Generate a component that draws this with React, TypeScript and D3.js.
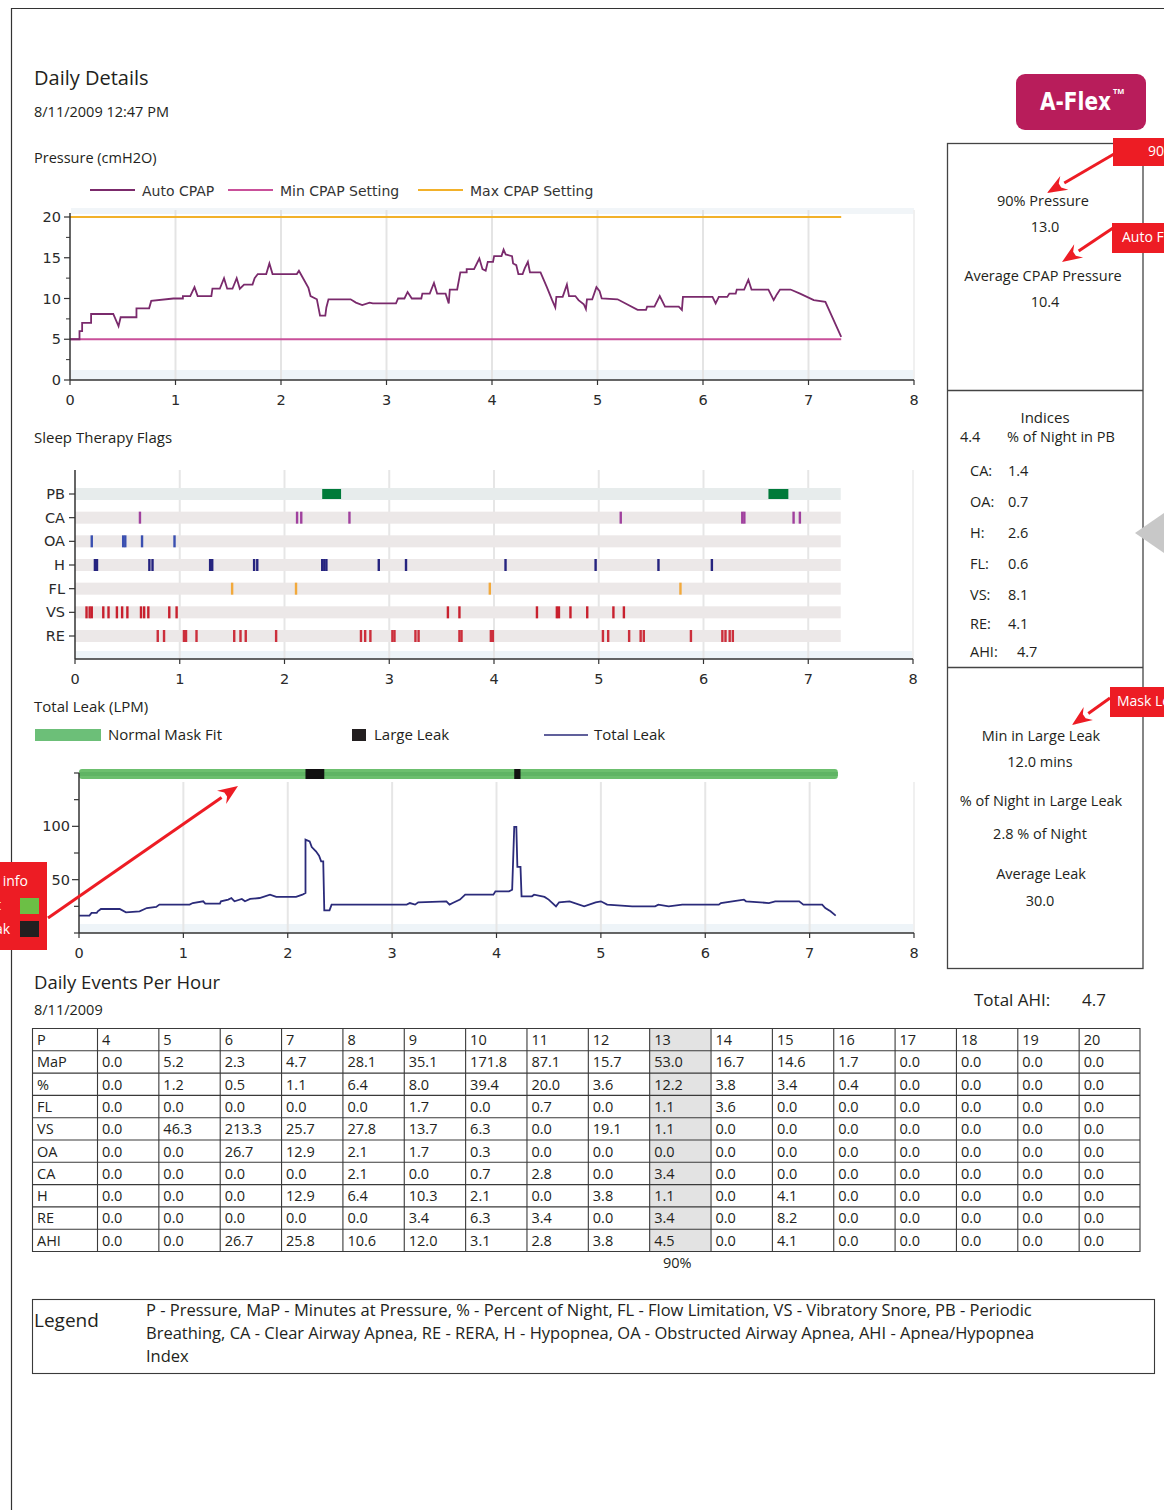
import React from "react";
import * as d3 from "d3";

const W = 1164;
const H = 1510;
const FONT = "'Open Sans', Lato, sans-serif";
const CFONT = "'DejaVu Sans', Verdana, sans-serif";
const TXT = "#231f20";

// ---------- Pressure chart data ----------
const hourTicks = [0, 1, 2, 3, 4, 5, 6, 7, 8];
const pressureTicks = [0, 5, 10, 15, 20];
const pressureMinorTicks = [2.5, 7.5, 12.5, 17.5];
const minCpapSetting = 5;
const maxCpapSetting = 20;
const sessionEnd = 7.31;
const pressureLegend = ["Auto CPAP", "Min CPAP Setting", "Max CPAP Setting"];
const autoCpap: [number, number][] = [
  [0.0, 5.0], [0.09, 5.0], [0.09, 6.0], [0.115, 6.0], [0.115, 7.0], [0.2, 7.0], [0.2, 8.1],
  [0.41, 8.1], [0.46, 6.6], [0.48, 7.7], [0.63, 7.7], [0.63, 8.8], [0.75, 8.8], [0.77, 9.7],
  [0.98, 10.0], [1.07, 10.0], [1.07, 10.3], [1.14, 10.3], [1.18, 11.4], [1.21, 10.3],
  [1.34, 10.3], [1.35, 11.2], [1.42, 11.2], [1.46, 12.5], [1.49, 11.2], [1.54, 11.2],
  [1.58, 12.5], [1.61, 11.2], [1.65, 11.7], [1.73, 11.7], [1.75, 12.5], [1.78, 13.0],
  [1.86, 13.0], [1.89, 14.3], [1.92, 13.0], [2.15, 13.0], [2.17, 13.4], [2.2, 12.7],
  [2.26, 11.3], [2.28, 10.3], [2.34, 9.9], [2.37, 7.9], [2.42, 7.9], [2.43, 8.9],
  [2.45, 9.9], [2.66, 9.9], [2.71, 9.5], [2.77, 9.2], [2.84, 9.5], [2.87, 9.4],
  [3.09, 9.4], [3.11, 10.0], [3.17, 10.0], [3.2, 10.8], [3.24, 10.0], [3.33, 10.0],
  [3.34, 10.6], [3.41, 10.6], [3.45, 11.9], [3.48, 10.6], [3.56, 10.6], [3.59, 9.4],
  [3.6, 11.1], [3.67, 11.1], [3.7, 13.2], [3.76, 13.2], [3.76, 13.6], [3.83, 13.6],
  [3.88, 14.9], [3.91, 13.6], [3.94, 13.4], [3.96, 14.5], [4.01, 14.5], [4.02, 15.2],
  [4.09, 15.2], [4.11, 16.0], [4.13, 15.4], [4.19, 15.2], [4.2, 14.3], [4.23, 14.1],
  [4.25, 13.0], [4.29, 13.0], [4.31, 13.7], [4.34, 14.5], [4.36, 13.2], [4.46, 13.2],
  [4.47, 12.9], [4.52, 11.4], [4.57, 9.8], [4.6, 8.9], [4.61, 10.2], [4.67, 10.2],
  [4.71, 11.7], [4.73, 10.3], [4.79, 10.3], [4.82, 9.8], [4.87, 9.3], [4.89, 8.7],
  [4.9, 9.9], [4.95, 9.9], [4.99, 11.4], [5.02, 10.9], [5.04, 10.0], [5.19, 9.9],
  [5.38, 8.6], [5.46, 8.6], [5.47, 9.0], [5.54, 9.0], [5.59, 10.3], [5.64, 9.0],
  [5.77, 9.0], [5.8, 8.6], [5.81, 10.2], [6.09, 10.2], [6.12, 9.4], [6.15, 10.2],
  [6.23, 10.2], [6.25, 10.6], [6.31, 10.6], [6.32, 11.1], [6.39, 11.1], [6.43, 12.3],
  [6.46, 11.1], [6.62, 11.1], [6.67, 9.8], [6.7, 10.5], [6.73, 11.1], [6.83, 11.1],
  [6.92, 10.6], [7.05, 9.8], [7.16, 9.6], [7.31, 5.3],
];

// ---------- Sleep therapy flags ----------
const flagRows = ["PB", "CA", "OA", "H", "FL", "VS", "RE"];
const pbSpans: [number, number][] = [[2.36, 2.54], [6.62, 6.81]];
const caEvents = [0.62, 2.12, 2.16, 2.62, 5.21, 6.37, 6.39, 6.86, 6.92];
const oaEvents = [0.16, 0.46, 0.48, 0.64, 0.95];
const hEvents = [0.19, 0.21, 0.71, 0.74, 1.29, 1.31, 1.71, 1.74, 2.36, 2.38, 2.4, 2.9, 3.16, 4.11, 4.97, 5.57, 6.08];
const flEvents = [1.5, 2.11, 3.96, 5.78];
const vsEvents = [0.11, 0.14, 0.16, 0.27, 0.32, 0.4, 0.45, 0.5, 0.63, 0.66, 0.7, 0.9, 0.97, 3.56, 3.67, 4.41, 4.6, 4.62, 4.73, 4.89, 5.14, 5.24];
const reEvents = [0.79, 0.85, 1.04, 1.06, 1.16, 1.52, 1.58, 1.63, 1.92, 2.73, 2.77, 2.82, 3.03, 3.05, 3.25, 3.28, 3.67, 3.69, 3.97, 3.99, 5.04, 5.09, 5.29, 5.4, 5.43, 5.88, 6.18, 6.21, 6.25, 6.28];
const flagColors: Record<string, string> = {
  CA: "#a0409e", OA: "#3a4fb0", H: "#25237f", FL: "#f2a93b", VS: "#c8202e", RE: "#cc2f3c",
};

// ---------- Total leak ----------
const leakTicks = [50, 100];
const leakAllTicks = [0, 25, 50, 75, 100, 125, 150];
const leakLegend = ["Normal Mask Fit", "Large Leak", "Total Leak"];
const largeLeakSpans: [number, number][] = [[2.17, 2.35], [4.17, 4.23]];
const totalLeak: [number, number][] = [
  [0, 16.3], [0.1, 16.3], [0.12, 18.8], [0.17, 18.8], [0.18, 20.3], [0.21, 22.5], [0.39, 22.5],
  [0.45, 19.4], [0.58, 20.3], [0.65, 23.4], [0.74, 24.4], [0.77, 26.6], [1.06, 26.6],
  [1.09, 28.1], [1.19, 29.7], [1.21, 27.5], [1.35, 27.5], [1.36, 29.7], [1.43, 31.3],
  [1.46, 32.8], [1.49, 29.7], [1.56, 31.9], [1.59, 29.7], [1.64, 31.9], [1.73, 32.8],
  [1.83, 35.9], [1.89, 33.8], [2.08, 33.8], [2.14, 35.9], [2.17, 37.5], [2.17, 87.5],
  [2.21, 85.9], [2.23, 80.6], [2.27, 76.6], [2.3, 72.5], [2.32, 67.2], [2.34, 67.2],
  [2.35, 21.3], [2.4, 21.3], [2.42, 26.6], [3.14, 26.6], [3.17, 28.1], [3.22, 26.6],
  [3.25, 28.8], [3.52, 29.7], [3.55, 26.6], [3.58, 28.1], [3.65, 31.3], [3.7, 35.9],
  [3.97, 35.9], [3.99, 39.1], [4.12, 39.1], [4.15, 40.6], [4.17, 99.4], [4.19, 99.4],
  [4.2, 61.9], [4.23, 61.9], [4.24, 34.4], [4.34, 34.4], [4.36, 35.9], [4.46, 33.8],
  [4.5, 31.3], [4.57, 25.0], [4.6, 28.8], [4.7, 29.7], [4.84, 25.0], [4.95, 28.8],
  [5.0, 29.7], [5.06, 26.6], [5.3, 25.0], [5.52, 25.0], [5.55, 26.6], [5.65, 25.0],
  [5.78, 26.6], [6.13, 26.6], [6.15, 28.1], [6.26, 29.7], [6.37, 31.3], [6.39, 29.7],
  [6.61, 28.1], [6.67, 29.7], [6.9, 29.7], [6.94, 26.6], [7.12, 26.6], [7.15, 23.4],
  [7.2, 20.3], [7.25, 16.3],
];

// ---------- Right panel ----------
const pressureStats = [["90% Pressure", "13.0"], ["Average CPAP Pressure", "10.4"]];
const indexLabels = ["CA:", "OA:", "H:", "FL:", "VS:", "RE:", "AHI:"];
const indexValues = ["1.4", "0.7", "2.6", "0.6", "8.1", "4.1", "4.7"];
const leakStats = [
  ["Min in Large Leak", "12.0 mins"],
  ["% of Night in Large Leak", "2.8 % of Night"],
  ["Average Leak", "30.0"],
];

// ---------- Table ----------
const tableRowLabels = ["P", "MaP", "%", "FL", "VS", "OA", "CA", "H", "RE", "AHI"];
const pressureLevels = ["4", "5", "6", "7", "8", "9", "10", "11", "12", "13", "14", "15", "16", "17", "18", "19", "20"];
const mapValues = ["0.0", "5.2", "2.3", "4.7", "28.1", "35.1", "171.8", "87.1", "15.7", "53.0", "16.7", "14.6", "1.7", "0.0", "0.0", "0.0", "0.0"];
const pctValues = ["0.0", "1.2", "0.5", "1.1", "6.4", "8.0", "39.4", "20.0", "3.6", "12.2", "3.8", "3.4", "0.4", "0.0", "0.0", "0.0", "0.0"];
const flValues = ["0.0", "0.0", "0.0", "0.0", "0.0", "1.7", "0.0", "0.7", "0.0", "1.1", "3.6", "0.0", "0.0", "0.0", "0.0", "0.0", "0.0"];
const vsValues = ["0.0", "46.3", "213.3", "25.7", "27.8", "13.7", "6.3", "0.0", "19.1", "1.1", "0.0", "0.0", "0.0", "0.0", "0.0", "0.0", "0.0"];
const oaValues = ["0.0", "0.0", "26.7", "12.9", "2.1", "1.7", "0.3", "0.0", "0.0", "0.0", "0.0", "0.0", "0.0", "0.0", "0.0", "0.0", "0.0"];
const caValues = ["0.0", "0.0", "0.0", "0.0", "2.1", "0.0", "0.7", "2.8", "0.0", "3.4", "0.0", "0.0", "0.0", "0.0", "0.0", "0.0", "0.0"];
const hValues = ["0.0", "0.0", "0.0", "12.9", "6.4", "10.3", "2.1", "0.0", "3.8", "1.1", "0.0", "4.1", "0.0", "0.0", "0.0", "0.0", "0.0"];
const reValues = ["0.0", "0.0", "0.0", "0.0", "0.0", "3.4", "6.3", "3.4", "0.0", "3.4", "0.0", "8.2", "0.0", "0.0", "0.0", "0.0", "0.0"];
const ahiValues = ["0.0", "0.0", "26.7", "25.8", "10.6", "12.0", "3.1", "2.8", "3.8", "4.5", "0.0", "4.1", "0.0", "0.0", "0.0", "0.0", "0.0"];
const highlightLevel = "13";
const legendLines = [
  "P - Pressure, MaP - Minutes at Pressure, % - Percent of Night, FL - Flow Limitation, VS - Vibratory Snore, PB - Periodic",
  "Breathing, CA - Clear Airway Apnea, RE - RERA, H - Hypopnea, OA - Obstructed Airway Apnea, AHI - Apnea/Hypopnea",
  "Index",
];

const RED = "#ed1c24";

function Arrow({ x1, y1, x2, y2 }: { x1: number; y1: number; x2: number; y2: number }) {
  const ang = Math.atan2(y2 - y1, x2 - x1);
  const len = 20, half = 8;
  const bx = x2 - len * Math.cos(ang), by = y2 - len * Math.sin(ang);
  const px = -Math.sin(ang) * half, py = Math.cos(ang) * half;
  return (
    <g>
      <line x1={x1} y1={y1} x2={bx} y2={by} stroke={RED} strokeWidth={3} />
      <path d={`M${x2},${y2}L${bx + px},${by + py}L${bx + px * 0.3 + Math.cos(ang) * 5},${by + py * 0.3 + Math.sin(ang) * 5}L${bx - px * 0.3 + Math.cos(ang) * 5},${by - py * 0.3 + Math.sin(ang) * 5}L${bx - px},${by - py}Z`} fill={RED} />
    </g>
  );
}

export default function App() {
  const xP = d3.scaleLinear().domain([0, 8]).range([70, 914]);
  const yP = d3.scaleLinear().domain([0, 20]).range([380, 217]);
  const lineP = d3.line<[number, number]>().x((d) => xP(d[0])).y((d) => yP(d[1]));

  const xF = d3.scaleLinear().domain([0, 8]).range([75, 913]);
  const yF = d3.scalePoint<string>().domain(flagRows).range([494, 636]);

  const xL = d3.scaleLinear().domain([0, 8]).range([79, 914]);
  const yL = d3.scaleLinear().domain([0, 150]).range([933, 773]);
  const lineL = d3.line<[number, number]>().x((d) => xL(d[0])).y((d) => yL(d[1]));

  const flagEvents: Record<string, number[]> = {
    CA: caEvents, OA: oaEvents, H: hEvents, FL: flEvents, VS: vsEvents, RE: reEvents,
  };

  const tableValues = [pressureLevels, mapValues, pctValues, flValues, vsValues, oaValues, caValues, hValues, reValues, ahiValues];
  const colX = d3.scaleBand<string>().domain(pressureLevels).range([97, 1140]);
  const rowY = d3.scaleBand<string>().domain(tableRowLabels).range([1028, 1251]);

  const axisColor = "#333";
  const tickFill = "#2a2a2a";
  const tickSize = 14.5;

  return (
    <svg width={W} height={H} style={{ position: "absolute", left: 0, top: 0, display: "block", background: "#fff" }}>
      {/* page border */}
      <path d="M11.5,1510 L11.5,8.5 L1164,8.5" fill="none" stroke="#333" strokeWidth={1.2} />

      {/* header */}
      <text x={34} y={85} fontFamily={FONT} fontSize={20} fill={TXT}>Daily Details</text>
      <text x={34} y={117} fontFamily={FONT} fontSize={14.5} fill={TXT}>8/11/2009 12:47 PM</text>
      <text x={34} y={163} fontFamily={FONT} fontSize={14.5} fill={TXT}>Pressure (cmH2O)</text>

      {/* pressure legend */}
      {[[90, "#7b2a6b"], [228, "#c9509a"], [418, "#f2b12a"]].map(([x, c], i) => (
        <g key={i}>
          <line x1={x as number} x2={(x as number) + 45} y1={190} y2={190} stroke={c as string} strokeWidth={2} />
          <text x={(x as number) + 52} y={196} fontFamily={CFONT} fontSize={14} fill="#333">{pressureLegend[i]}</text>
        </g>
      ))}

      {/* pressure chart */}
      <rect x={71} y={208} width={843} height={6} fill="#f1f5f8" />
      <rect x={71} y={370} width={843} height={10} fill="#eef4f8" />
      {hourTicks.slice(1).map((h) => (
        <line key={h} x1={xP(h)} x2={xP(h)} y1={210} y2={380} stroke={h === 8 ? "#f0f0f0" : "#e4e4e4"} strokeWidth={2} />
      ))}
      <line x1={xP(0)} x2={xP(sessionEnd)} y1={yP(maxCpapSetting)} y2={yP(maxCpapSetting)} stroke="#f2b12a" strokeWidth={2} />
      <line x1={xP(0)} x2={xP(sessionEnd)} y1={yP(minCpapSetting)} y2={yP(minCpapSetting)} stroke="#c9509a" strokeWidth={2} />
      <path d={lineP(autoCpap) || ""} fill="none" stroke="#7a2a6c" strokeWidth={1.8} />
      <line x1={70} x2={70} y1={213} y2={380} stroke={axisColor} strokeWidth={1.5} />
      <line x1={70} x2={914} y1={380} y2={380} stroke={axisColor} strokeWidth={1.5} />
      {pressureTicks.map((t) => (
        <g key={t}>
          <line x1={64} x2={70} y1={yP(t)} y2={yP(t)} stroke={axisColor} strokeWidth={1.2} />
          <text x={61} y={yP(t) + 5} textAnchor="end" fontFamily={CFONT} fontSize={tickSize} fill={tickFill}>{t}</text>
        </g>
      ))}
      {pressureMinorTicks.map((t) => (
        <line key={t} x1={66} x2={70} y1={yP(t)} y2={yP(t)} stroke={axisColor} strokeWidth={1} />
      ))}
      {hourTicks.map((h) => (
        <g key={h}>
          <line x1={xP(h)} x2={xP(h)} y1={380} y2={385} stroke={axisColor} strokeWidth={1.2} />
          <text x={xP(h)} y={405} textAnchor="middle" fontFamily={CFONT} fontSize={tickSize} fill={tickFill}>{h}</text>
        </g>
      ))}

      {/* sleep therapy flags */}
      <text x={34} y={443} fontFamily={FONT} fontSize={15} fill={TXT}>Sleep Therapy Flags</text>
      <rect x={76} y={651} width={837} height={8} fill="#eef4f8" />
      {hourTicks.slice(1).map((h) => (
        <line key={h} x1={xF(h)} x2={xF(h)} y1={470} y2={659} stroke={h === 8 ? "#f0f0f0" : "#e6e6e6"} strokeWidth={2} />
      ))}
      {flagRows.map((r, i) => (
        <rect key={r} x={xF(0)} y={(yF(r) as number) - 6} width={xF(sessionEnd) - xF(0)} height={12} fill={i === 0 ? "#e7ecec" : "#ece8e8"} />
      ))}
      {pbSpans.map(([a, b], i) => (
        <rect key={i} x={xF(a)} y={(yF("PB") as number) - 5} width={xF(b) - xF(a)} height={10} fill="#007a3a" />
      ))}
      {flagRows.slice(1).map((r) =>
        flagEvents[r].map((e, i) => (
          <rect key={r + i} x={xF(e) - 1.2} y={(yF(r) as number) - 6} width={2.4} height={12} fill={flagColors[r]} />
        ))
      )}
      <line x1={75} x2={75} y1={470} y2={659} stroke={axisColor} strokeWidth={1.5} />
      <line x1={75} x2={913} y1={659} y2={659} stroke={axisColor} strokeWidth={1.5} />
      {flagRows.map((r) => (
        <g key={r}>
          <line x1={69} x2={75} y1={yF(r) as number} y2={yF(r) as number} stroke={axisColor} strokeWidth={1.2} />
          <text x={65} y={(yF(r) as number) + 5} textAnchor="end" fontFamily={CFONT} fontSize={tickSize} fill={tickFill}>{r}</text>
        </g>
      ))}
      {hourTicks.map((h) => (
        <g key={h}>
          <line x1={xF(h)} x2={xF(h)} y1={659} y2={664} stroke={axisColor} strokeWidth={1.2} />
          <text x={xF(h)} y={684} textAnchor="middle" fontFamily={CFONT} fontSize={tickSize} fill={tickFill}>{h}</text>
        </g>
      ))}

      {/* total leak */}
      <text x={34} y={712} fontFamily={FONT} fontSize={15} fill={TXT}>Total Leak (LPM)</text>
      <rect x={35} y={729} width={66} height={12} fill="#6cbf78" />
      <text x={108} y={740} fontFamily={FONT} fontSize={15} fill={TXT}>{leakLegend[0]}</text>
      <rect x={352} y={729} width={14} height={12} fill="#231f20" />
      <text x={374} y={740} fontFamily={FONT} fontSize={15} fill={TXT}>{leakLegend[1]}</text>
      <line x1={544} x2={588} y1={735} y2={735} stroke="#2b2b7a" strokeWidth={1.5} />
      <text x={594} y={740} fontFamily={FONT} fontSize={15} fill={TXT}>{leakLegend[2]}</text>

      <rect x={80} y={924} width={834} height={9} fill="#eef4f8" />
      {hourTicks.slice(1).map((h) => (
        <line key={h} x1={xL(h)} x2={xL(h)} y1={782} y2={933} stroke={h === 8 ? "#f0f0f0" : "#e6e6e6"} strokeWidth={2} />
      ))}
      <rect x={xL(0)} y={769} width={xL(7.27) - xL(0)} height={10} rx={3} fill="#6cbf6e" />
      <rect x={xL(0)} y={772} width={xL(7.27) - xL(0)} height={4} fill="#5fb464" />
      {largeLeakSpans.map(([a, b], i) => (
        <rect key={i} x={xL(a)} y={769} width={xL(b) - xL(a)} height={10} fill="#111" />
      ))}
      <path d={lineL(totalLeak) || ""} fill="none" stroke="#2b2b7a" strokeWidth={1.8} />
      <line x1={79} x2={79} y1={773} y2={933} stroke={axisColor} strokeWidth={1.5} />
      <line x1={79} x2={914} y1={933} y2={933} stroke={axisColor} strokeWidth={1.5} />
      {leakAllTicks.map((t) => (
        <line key={t} x1={leakTicks.includes(t) ? 72 : 74} x2={79} y1={yL(t)} y2={yL(t)} stroke={axisColor} strokeWidth={1.2} />
      ))}
      {leakTicks.map((t) => (
        <text key={t} x={70} y={yL(t) + 5} textAnchor="end" fontFamily={CFONT} fontSize={tickSize} fill={tickFill}>{t}</text>
      ))}
      {hourTicks.map((h) => (
        <g key={h}>
          <line x1={xL(h)} x2={xL(h)} y1={933} y2={938} stroke={axisColor} strokeWidth={1.2} />
          <text x={xL(h)} y={958} textAnchor="middle" fontFamily={CFONT} fontSize={tickSize} fill={tickFill}>{h}</text>
        </g>
      ))}

      {/* A-Flex logo */}
      <rect x={1016} y={74} width={130} height={56} rx={9} fill="#b81d5b" />
      <text x={1040} y={110} fontFamily="'DejaVu Sans Condensed', 'DejaVu Sans', sans-serif" fontWeight="bold" fontSize={25} fill="#fff" textLength={71} lengthAdjust="spacingAndGlyphs">A-Flex</text>
      <text x={1113} y={94} fontFamily={FONT} fontWeight="bold" fontSize={7.5} fill="#fff">TM</text>

      {/* right panel */}
      <g stroke="#444" strokeWidth={1.3} fill="none">
        <rect x={947.5} y={143.5} width={195.5} height={825} />
        <line x1={947.5} x2={1143} y1={390.5} y2={390.5} />
        <line x1={947.5} x2={1143} y1={667.5} y2={667.5} />
      </g>
      {pressureStats.map(([l, v], i) => (
        <g key={l}>
          <text x={1043} y={206 + i * 75} textAnchor="middle" fontFamily={FONT} fontSize={14.5} fill={TXT}>{l}</text>
          <text x={1045} y={232 + i * 75} textAnchor="middle" fontFamily={FONT} fontSize={14.5} fill={TXT}>{v}</text>
        </g>
      ))}
      <text x={1045} y={423} textAnchor="middle" fontFamily={FONT} fontSize={15} fill={TXT}>Indices</text>
      <text x={960} y={442} fontFamily={FONT} fontSize={14.5} fill={TXT}>4.4</text>
      <text x={1007} y={442} fontFamily={FONT} fontSize={14.5} fill={TXT}>% of Night in PB</text>
      {indexLabels.map((l, i) => {
        const y = [476, 507, 538, 569, 600, 629, 657][i];
        return (
          <g key={l}>
            <text x={970} y={y} fontFamily={FONT} fontSize={14.5} fill={TXT}>{l}</text>
            <text x={l === "AHI:" ? 1017 : 1008} y={y} fontFamily={FONT} fontSize={14.5} fill={TXT}>{indexValues[i]}</text>
          </g>
        );
      })}
      {leakStats.map(([l, v], i) => {
        const ly = [741, 806, 879][i];
        const vy = [767, 839, 906][i];
        return (
          <g key={l}>
            <text x={1041} y={ly} textAnchor="middle" fontFamily={FONT} fontSize={14.5} fill={TXT}>{l}</text>
            <text x={1040} y={vy} textAnchor="middle" fontFamily={FONT} fontSize={14.5} fill={TXT}>{v}</text>
          </g>
        );
      })}
      <path d="M1135,533 L1164,513 L1164,553 Z" fill="#c8c8c8" />

      {/* red callouts */}
      <rect x={1113} y={138} width={51} height={28} fill={RED} />
      <text x={1148} y={156} fontFamily={FONT} fontSize={14} fill="#fff">90</text>
      <Arrow x1={1114} y1={154} x2={1047} y2={193} />
      <rect x={1112} y={223} width={52} height={30} fill={RED} />
      <text x={1122} y={242} fontFamily={FONT} fontSize={14} fill="#fff">Auto F</text>
      <Arrow x1={1113} y1={228} x2={1062} y2={262} />
      <rect x={1110} y={687} width={54} height={30} fill={RED} />
      <text x={1117} y={706} fontFamily={FONT} fontSize={14} fill="#fff">Mask Le</text>
      <Arrow x1={1110} y1={698} x2={1072} y2={725} />

      <rect x={0} y={862} width={47} height={88} fill={RED} />
      <text x={-6} y={886} fontFamily={FONT} fontSize={14} fill="#fff">t info</text>
      <text x={-4} y={910} fontFamily={FONT} fontSize={14} fill="#fff">t</text>
      <rect x={20} y={898} width={19} height={16} fill="#6cbf45" />
      <text x={-5} y={934} fontFamily={FONT} fontSize={14} fill="#fff">ak</text>
      <rect x={20} y={921} width={19} height={16} fill="#231f20" />
      <Arrow x1={48} y1={918} x2={238} y2={786} />

      {/* daily events per hour */}
      <text x={34} y={989} fontFamily={FONT} fontSize={18.5} fill={TXT}>Daily Events Per Hour</text>
      <text x={34} y={1015} fontFamily={FONT} fontSize={14.5} fill={TXT}>8/11/2009</text>
      <text x={974} y={1006} fontFamily={FONT} fontSize={17} fill={TXT}>Total AHI:</text>
      <text x={1082} y={1006} fontFamily={FONT} fontSize={17} fill={TXT}>4.7</text>

      <rect x={colX(highlightLevel)} y={1028} width={colX.bandwidth()} height={223} fill="#e3e3e3" />
      {tableRowLabels.map((r, ri) => (
        <g key={r}>
          <text x={37} y={(rowY(r) as number) + 17} fontFamily={FONT} fontSize={14.5} fill={TXT}>{r}</text>
          {pressureLevels.map((p, ci) => (
            <text key={p} x={(colX(p) as number) + 5} y={(rowY(r) as number) + 17} fontFamily={FONT} fontSize={14.5} fill={TXT}>{tableValues[ri][ci]}</text>
          ))}
        </g>
      ))}
      <g stroke="#3a3a3a" strokeWidth={1.1}>
        {tableRowLabels.map((r) => (
          <line key={r} x1={32} x2={1140} y1={(rowY(r) as number) + 0.5} y2={(rowY(r) as number) + 0.5} />
        ))}
        <line x1={32} x2={1140} y1={1251.5} y2={1251.5} />
        <line x1={32.5} x2={32.5} y1={1028} y2={1252} />
        {pressureLevels.map((p) => (
          <line key={p} x1={(colX(p) as number) + 0.5} x2={(colX(p) as number) + 0.5} y1={1028} y2={1252} />
        ))}
        <line x1={1140} x2={1140} y1={1028} y2={1252} />
      </g>
      <text x={663} y={1268} fontFamily={FONT} fontSize={14.5} fill={TXT}>90%</text>

      {/* legend box */}
      <rect x={32.5} y={1299.5} width={1122} height={74} fill="none" stroke="#3a3a3a" strokeWidth={1.1} />
      <text x={34} y={1327} fontFamily={FONT} fontSize={19} fill={TXT}>Legend</text>
      {legendLines.map((l, i) => (
        <text key={i} x={146} y={1316 + i * 23} fontFamily={FONT} fontSize={16.5} fill={TXT}>{l}</text>
      ))}
    </svg>
  );
}
